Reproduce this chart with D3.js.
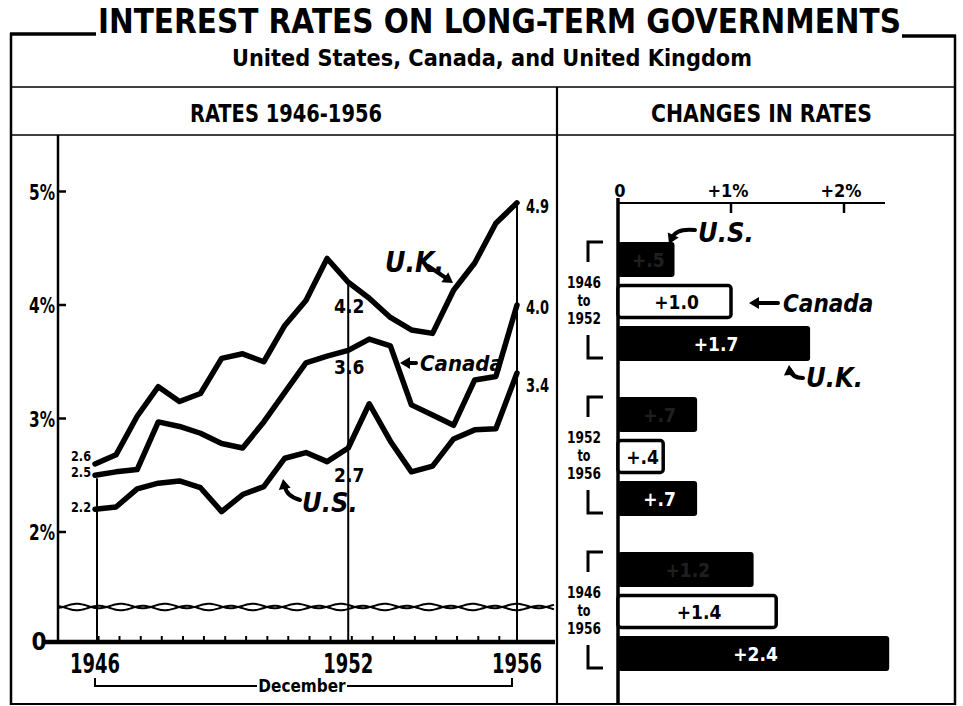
<!DOCTYPE html>
<html lang="en">
<head>
<meta charset="UTF-8">
<title>Interest Rates on Long-Term Governments</title>
<script src="https://cdn.jsdelivr.net/npm/d3@7"></script>
<style>
  body { margin: 0; background: #fff; }
  svg { display: block; }
  text { fill: #000; }
  .narrow { font-family: "DejaVu Sans Condensed", "DejaVu Sans", sans-serif; font-stretch: condensed; font-weight: bold; }
  .ital { font-family: "DejaVu Sans Condensed", "DejaVu Sans", sans-serif; font-stretch: condensed; font-weight: bold; font-style: italic; }
  .heavy { font-family: "DejaVu Sans", "Liberation Sans", sans-serif; font-weight: bold; }
</style>
</head>
<body>
<svg id="chart" width="963" height="706"></svg>
<script>
// semiannual observations, June and December
const periods = ["1946-12", "1947-06", "1947-12", "1948-06", "1948-12", "1949-06", "1949-12",
  "1950-06", "1950-12", "1951-06", "1951-12", "1952-06", "1952-12", "1953-06", "1953-12",
  "1954-06", "1954-12", "1955-06", "1955-12", "1956-06", "1956-12"];
const ukRates = [2.6, 2.68, 3.02, 3.28, 3.15, 3.22, 3.53, 3.57, 3.5, 3.82, 4.04, 4.41, 4.2, 4.06,
  3.89, 3.78, 3.75, 4.13, 4.37, 4.72, 4.9];
const canadaRates = [2.5, 2.53, 2.55, 2.97, 2.93, 2.87, 2.78, 2.74, 2.97, 3.23, 3.49, 3.55, 3.6, 3.7,
  3.64, 3.12, 3.03, 2.94, 3.34, 3.37, 4.0];
const usRates = [2.2, 2.22, 2.38, 2.43, 2.45, 2.39, 2.18, 2.33, 2.4, 2.65, 2.7, 2.62, 2.74, 3.13,
  2.8, 2.53, 2.58, 2.82, 2.9, 2.91, 3.4];
const rateTicks = [2, 3, 4, 5];
const yearLabels = ["1946", "1952", "1956"];
const startLabels = ["2.6", "2.5", "2.2"];
const midLabels = ["4.2", "3.6", "2.7"];
const endLabels = ["4.9", "4.0", "3.4"];

// changes in rates
const periodGroups = ["1946-1952", "1952-1956", "1946-1956"];
const countries = ["U.S.", "Canada", "U.K."];
const usChange = [0.5, 0.7, 1.2];
const canadaChange = [1.0, 0.4, 1.4];
const ukChange = [1.7, 0.7, 2.4];
const changeLabels = [["+.5", "+1.0", "+1.7"], ["+.7", "+.4", "+.7"], ["+1.2", "+1.4", "+2.4"]];
const changeTicks = [0, 1, 2];

const svg = d3.select("#chart");

function rule(x1, y1, x2, y2, w) {
  svg.append("line").attr("x1", x1).attr("y1", y1).attr("x2", x2).attr("y2", y2)
    .attr("stroke", "#000").attr("stroke-width", w);
}

// frame
rule(10, 34, 96, 34, 3.5);
rule(902, 36, 956, 36, 3.5);
rule(11, 33, 11, 705, 2.5);
rule(955, 35, 955, 705, 2.5);
rule(10, 704, 956, 704, 2);
rule(11, 87, 955, 87, 1.4);
rule(11, 135, 955, 135, 1.4);
rule(557, 87, 557, 705, 2.2);

svg.append("text").attr("class", "heavy").attr("transform", "translate(98,33) scale(1,1.18)")
  .attr("font-size", 28).attr("textLength", 803).attr("lengthAdjust", "spacingAndGlyphs")
  .text("INTEREST RATES ON LONG-TERM GOVERNMENTS");
svg.append("text").attr("class", "heavy").attr("x", 232).attr("y", 66)
  .attr("font-size", 23).attr("textLength", 520).attr("lengthAdjust", "spacingAndGlyphs")
  .text("United States, Canada, and United Kingdom");
svg.append("text").attr("class", "narrow").attr("x", 190).attr("y", 122)
  .attr("font-size", 24).attr("textLength", 192).attr("lengthAdjust", "spacingAndGlyphs")
  .text("RATES 1946-1956");
svg.append("text").attr("class", "narrow").attr("x", 651).attr("y", 122)
  .attr("font-size", 24).attr("textLength", 221).attr("lengthAdjust", "spacingAndGlyphs")
  .text("CHANGES IN RATES");

// ---------- left: rates ----------
const parse = d3.timeParse("%Y-%m");
const dates = periods.map(parse);
const x = d3.scaleTime().domain([dates[0], dates[dates.length - 1]]).range([95, 517]);
const y = d3.scaleLinear().domain([2, 5]).range([532, 191.5]);
const yZero = 642;
const axisX = 58;

const left = svg.append("g");

// y axis
left.append("line").attr("x1", axisX).attr("x2", axisX).attr("y1", 135).attr("y2", yZero)
  .attr("stroke", "#000").attr("stroke-width", 2.5);
rateTicks.forEach(v => {
  left.append("line").attr("x1", axisX).attr("x2", axisX + 8).attr("y1", y(v)).attr("y2", y(v))
    .attr("stroke", "#000").attr("stroke-width", 2.5);
  left.append("text").attr("class", "narrow").attr("x", axisX - 3).attr("y", y(v) + 8)
    .attr("text-anchor", "end").attr("font-size", 21)
    .attr("textLength", 26).attr("lengthAdjust", "spacingAndGlyphs").text(v + "%");
});
left.append("text").attr("class", "narrow").attr("x", 39).attr("y", yZero + 8)
  .attr("text-anchor", "middle").attr("font-size", 24).text("0");

// scale break
const wave = (y0, phase) => {
  const pts = d3.range(axisX, 556, 2).map(px => [px, y0 + 2.2 * Math.sin(px / 7 + phase)]);
  return d3.line().curve(d3.curveBasis)(pts);
};
left.append("path").attr("d", wave(606, 0)).attr("fill", "none").attr("stroke", "#000").attr("stroke-width", 2);
left.append("path").attr("d", wave(608, Math.PI)).attr("fill", "none").attr("stroke", "#000").attr("stroke-width", 2);

// zero axis + half-year ticks
left.append("line").attr("x1", 45).attr("x2", 555).attr("y1", yZero).attr("y2", yZero)
  .attr("stroke", "#000").attr("stroke-width", 4.5);
const yearDates = yearLabels.map(yr => parse(yr + "-12"));
const tickDates = d3.timeMonth.every(6).range(dates[0], dates[dates.length - 1]);
tickDates.forEach(d => {
  if (yearDates.some(yd => +yd === +d)) return;
  const len = d.getMonth() === 11 ? 11 : 6;
  left.append("line").attr("x1", x(d)).attr("x2", x(d)).attr("y1", yZero).attr("y2", yZero - len)
    .attr("stroke", "#000").attr("stroke-width", 2);
});
yearDates.forEach((d, i) => {
  left.append("text").attr("class", "narrow").attr("x", x(d)).attr("y", 673)
    .attr("text-anchor", "middle").attr("font-size", 26)
    .attr("textLength", 50).attr("lengthAdjust", "spacingAndGlyphs").text(yearLabels[i]);
});
left.append("path")
  .attr("d", `M${x(yearDates[0])},678V686H257M347,686H${x(yearDates[2]) - 5}V678`)
  .attr("fill", "none").attr("stroke", "#000").attr("stroke-width", 2);
left.append("text").attr("class", "narrow").attr("x", 302).attr("y", 692)
  .attr("text-anchor", "middle").attr("font-size", 17).text("December");

// reference verticals at Dec 1946, Dec 1952, Dec 1956
const i52 = periods.indexOf("1952-12");
const last = periods.length - 1;
rule(x(dates[0]) + 2, y(canadaRates[0]) + 3, x(dates[0]) + 2, yZero, 2);
rule(x(dates[i52]), y(ukRates[i52]), x(dates[i52]), yZero, 2);
rule(x(dates[last]), y(ukRates[last]), x(dates[last]), yZero, 2);

// series lines
const line = d3.line().x((d, i) => x(dates[i])).y(d => y(d));
[ukRates, canadaRates, usRates].forEach(s => {
  left.append("path").attr("d", line(s)).attr("fill", "none").attr("stroke", "#000")
    .attr("stroke-width", 5.5).attr("stroke-linejoin", "round").attr("stroke-linecap", "round");
});

// value labels
const series = [ukRates, canadaRates, usRates];
const startShift = [-3, 2, 3];
const midShift = [31, 24, 34];
const endShift = [10, 9, 19];
series.forEach((s, k) => {
  left.append("text").attr("class", "narrow").attr("x", 91).attr("y", y(s[0]) + startShift[k])
    .attr("text-anchor", "end").attr("font-size", 14)
    .attr("textLength", 20).attr("lengthAdjust", "spacingAndGlyphs").text(startLabels[k]);
  left.append("text").attr("class", "narrow").attr("x", x(dates[i52]) + 1).attr("y", y(s[i52]) + midShift[k])
    .attr("text-anchor", "middle").attr("font-size", 19)
    .attr("stroke", "#fff").attr("stroke-width", 5).attr("paint-order", "stroke")
    .text(midLabels[k]);
  left.append("text").attr("class", "narrow").attr("x", 526).attr("y", y(s[last]) + endShift[k])
    .attr("font-size", 20).attr("textLength", 23).attr("lengthAdjust", "spacingAndGlyphs")
    .text(endLabels[k]);
});

// series annotations
function arrow(g, path, tip, angle) {
  g.append("path").attr("d", path).attr("fill", "none").attr("stroke", "#000")
    .attr("stroke-width", 4).attr("stroke-linecap", "round");
  g.append("path").attr("d", "M0,0L-10,-6L-10,6Z").attr("fill", "#000")
    .attr("transform", `translate(${tip[0]},${tip[1]}) rotate(${angle})`);
}
left.append("text").attr("class", "ital").attr("x", 385).attr("y", 272).attr("font-size", 28).text("U.K.");
arrow(left, "M428,266L446,278", [453, 283], 35);
left.append("text").attr("class", "ital").attr("x", 420).attr("y", 371).attr("font-size", 22).text("Canada");
arrow(left, "M416,363L406,363", [400, 363], 180);
left.append("text").attr("class", "ital").attr("x", 302).attr("y", 512).attr("font-size", 27).text("U.S.");
arrow(left, "M300,500Q286,496 285,486", [283, 479], -100);

// ---------- right: changes ----------
const xb = d3.scaleLinear().domain([0, 2]).range([618, 844]);
const gy = d3.scaleBand().domain(periodGroups).range([240, 705]);
const by = d3.scaleBand().domain(countries).range([2, 121]).paddingInner(1 / 6);

const right = svg.append("g");
right.append("line").attr("x1", xb(0)).attr("x2", xb(0)).attr("y1", 198).attr("y2", 705)
  .attr("stroke", "#000").attr("stroke-width", 3.5);
right.append("line").attr("x1", xb(0)).attr("x2", 885).attr("y1", 203).attr("y2", 203)
  .attr("stroke", "#000").attr("stroke-width", 2);
changeTicks.forEach(v => {
  if (v > 0) {
    right.append("line").attr("x1", xb(v)).attr("x2", xb(v)).attr("y1", 203).attr("y2", 213)
      .attr("stroke", "#000").attr("stroke-width", 2.5);
  }
  right.append("text").attr("class", "narrow").attr("x", xb(v) + (v > 0 ? -3 : 2)).attr("y", 197)
    .attr("text-anchor", "middle").attr("font-size", 18).text(v > 0 ? "+" + v + "%" : "0");
});

const changes = [usChange, canadaChange, ukChange];
periodGroups.forEach((grp, gi) => {
  const g0 = gy(grp);
  countries.forEach((c, ci) => {
    const v = changes[ci][gi];
    const open = c === "Canada";
    const top = g0 + by(c);
    right.append("rect").attr("x", xb(0)).attr("y", open ? top + 1.5 : top)
      .attr("width", xb(v) - xb(0)).attr("height", open ? by.bandwidth() - 3 : by.bandwidth())
      .attr("rx", 3).attr("fill", open ? "#fff" : "#000")
      .attr("stroke", "#000").attr("stroke-width", open ? 3.5 : 0);
    right.append("text").attr("class", "narrow")
      .attr("x", (xb(0) + xb(v)) / 2 + 2).attr("y", top + by.bandwidth() / 2 + 7)
      .attr("text-anchor", "middle").attr("font-size", 19)
      .style("fill", open ? "#000" : "#fff").attr("opacity", c === "U.S." ? 0.12 : 1)
      .text(changeLabels[gi][ci]);
  });
  const yrs = grp.split("-");
  const mid = g0 + 60;
  [yrs[0], "to", yrs[1]].forEach((t, k) => {
    right.append("text").attr("class", "narrow").attr("x", 584).attr("y", mid - 12 + k * 18)
      .attr("text-anchor", "middle").attr("font-size", 15)
      .attr("textLength", t === "to" ? 13 : 34).attr("lengthAdjust", "spacingAndGlyphs").text(t);
  });
  right.append("path")
    .attr("d", `M603,${g0 + 2}H588V${g0 + 22}M588,${g0 + 95}V${g0 + 118}H603`)
    .attr("fill", "none").attr("stroke", "#000").attr("stroke-width", 3);
});

right.append("text").attr("class", "ital").attr("x", 698).attr("y", 242).attr("font-size", 27).text("U.S.");
arrow(right, "M695,230Q676,228 672,238", [669, 244], 115);
right.append("text").attr("class", "ital").attr("x", 783).attr("y", 312).attr("font-size", 24).text("Canada");
arrow(right, "M778,303L757,303", [749, 303], 180);
right.append("text").attr("class", "ital").attr("x", 806).attr("y", 387).attr("font-size", 27).text("U.K.");
arrow(right, "M803,378Q792,378 790,370", [789, 365], -95);
</script>
</body>
</html>
